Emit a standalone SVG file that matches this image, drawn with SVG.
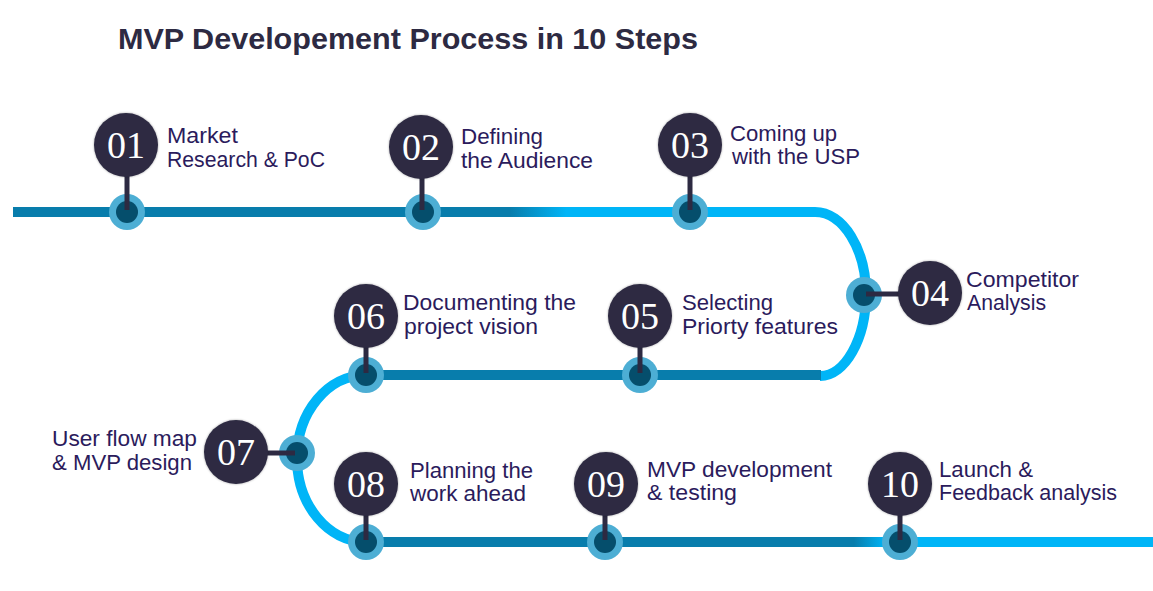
<svg xmlns="http://www.w3.org/2000/svg" width="1153" height="591" viewBox="0 0 1153 591">
<defs>
<linearGradient id="gTop" gradientUnits="userSpaceOnUse" x1="13" y1="0" x2="815" y2="0">
<stop offset="0.62" stop-color="#087DAC"/>
<stop offset="0.69" stop-color="#00B5F7"/>
</linearGradient>
<linearGradient id="gBot" gradientUnits="userSpaceOnUse" x1="366" y1="0" x2="1153" y2="0">
<stop offset="0.62" stop-color="#087DAC"/>
<stop offset="0.66" stop-color="#00B5F7"/>
</linearGradient>
<filter id="soft" x="-20%" y="-20%" width="140%" height="140%">
<feDropShadow dx="0" dy="0" stdDeviation="1.2" flood-color="#000" flood-opacity="0.35"/>
</filter>
</defs>
<style>
.track{fill:none;stroke-width:10}
.dark{stroke:#087DAC}
.light{stroke:#00B5F7}
.big{fill:#2D2A42;filter:url(#soft)}
.num{font-family:"Liberation Serif",serif;font-size:38px;fill:#FFFFFF;text-anchor:middle}
.stem{stroke:#2D2A42;stroke-width:5}
.mo{fill:#4DAED4}
.mi{fill:#054E6C}
.lbl{font-family:"Liberation Sans",Arial,sans-serif;font-size:21.5px;fill:#2B1B5C}
.title{font-family:"Liberation Sans",Arial,sans-serif;font-size:30px;font-weight:bold;fill:#2D2A42}
</style>
<rect width="1153" height="591" fill="#FFFFFF"/>
<text class="title" x="118" y="49" textLength="580" lengthAdjust="spacingAndGlyphs">MVP Developement Process in 10 Steps</text>

<g id="connectors">
<path class="track" d="M13 212 H815" stroke="url(#gTop)"/>
<path class="track light" d="M815 212 C843 212 866 249 866 294 C866 339 845 376 820 376"/>
<path class="track dark" d="M821 375 H366"/>
<path class="track light" d="M366 375 C328 375 297 412 297 458 C297 505 328 542 366 542"/>
<path class="track" d="M366 542 H1153" stroke="url(#gBot)"/>
</g>

<g id="step-01">
<circle class="mo" cx="127" cy="212" r="18"/><circle class="mi" cx="127" cy="212" r="11"/>
<line class="stem" x1="127" y1="170" x2="127" y2="210"/>
<circle class="big" cx="126" cy="145" r="32"/>
<text class="num" x="126" y="158">01</text>
<text class="lbl" x="167" y="143" textLength="71" lengthAdjust="spacingAndGlyphs">Market</text>
<text class="lbl" x="167" y="167" textLength="158" lengthAdjust="spacingAndGlyphs">Research &amp; PoC</text>
</g>

<g id="step-02">
<circle class="mo" cx="423" cy="212" r="18"/><circle class="mi" cx="423" cy="212" r="11"/>
<line class="stem" x1="422" y1="172" x2="422" y2="210"/>
<circle class="big" cx="421" cy="147" r="32"/>
<text class="num" x="421" y="160">02</text>
<text class="lbl" x="461" y="144" textLength="82" lengthAdjust="spacingAndGlyphs">Defining</text>
<text class="lbl" x="461" y="168" textLength="132" lengthAdjust="spacingAndGlyphs">the Audience</text>
</g>

<g id="step-03">
<circle class="mo" cx="690" cy="212" r="18"/><circle class="mi" cx="690" cy="212" r="11"/>
<line class="stem" x1="690" y1="170" x2="690" y2="210"/>
<circle class="big" cx="690" cy="145" r="32"/>
<text class="num" x="690" y="158">03</text>
<text class="lbl" x="730" y="141" textLength="107" lengthAdjust="spacingAndGlyphs">Coming up</text>
<text class="lbl" x="732" y="164" textLength="128" lengthAdjust="spacingAndGlyphs">with the USP</text>
</g>

<g id="step-04">
<circle class="mo" cx="864" cy="295" r="18"/><circle class="mi" cx="864" cy="295" r="11"/>
<line class="stem" x1="866" y1="294" x2="905" y2="294"/>
<circle class="big" cx="930" cy="293" r="32"/>
<text class="num" x="930" y="306">04</text>
<text class="lbl" x="966" y="287" textLength="113" lengthAdjust="spacingAndGlyphs">Competitor</text>
<text class="lbl" x="967" y="310" textLength="79" lengthAdjust="spacingAndGlyphs">Analysis</text>
</g>

<g id="step-05">
<circle class="mo" cx="640" cy="375" r="18"/><circle class="mi" cx="640" cy="375" r="11"/>
<line class="stem" x1="640" y1="340" x2="640" y2="373"/>
<circle class="big" cx="640" cy="316" r="32"/>
<text class="num" x="640" y="329">05</text>
<text class="lbl" x="682" y="310" textLength="91" lengthAdjust="spacingAndGlyphs">Selecting</text>
<text class="lbl" x="682" y="334" textLength="156" lengthAdjust="spacingAndGlyphs">Priorty features</text>
</g>

<g id="step-06">
<circle class="mo" cx="366" cy="375" r="18"/><circle class="mi" cx="366" cy="375" r="11"/>
<line class="stem" x1="366" y1="340" x2="366" y2="373"/>
<circle class="big" cx="366" cy="316" r="32"/>
<text class="num" x="366" y="329">06</text>
<text class="lbl" x="403" y="310" textLength="173" lengthAdjust="spacingAndGlyphs">Documenting the</text>
<text class="lbl" x="404" y="334" textLength="134" lengthAdjust="spacingAndGlyphs">project vision</text>
</g>

<g id="step-07">
<circle class="mo" cx="297" cy="453" r="18"/><circle class="mi" cx="297" cy="453" r="11"/>
<line class="stem" x1="260" y1="453" x2="295" y2="453"/>
<circle class="big" cx="236" cy="452" r="32"/>
<text class="num" x="236" y="465">07</text>
<text class="lbl" x="52" y="446" textLength="145" lengthAdjust="spacingAndGlyphs">User flow map</text>
<text class="lbl" x="52" y="470" textLength="140" lengthAdjust="spacingAndGlyphs">&amp; MVP design</text>
</g>

<g id="step-08">
<circle class="mo" cx="366" cy="542" r="18"/><circle class="mi" cx="366" cy="542" r="11"/>
<line class="stem" x1="366" y1="505" x2="366" y2="540"/>
<circle class="big" cx="366" cy="484" r="32"/>
<text class="num" x="366" y="497">08</text>
<text class="lbl" x="410" y="478" textLength="123" lengthAdjust="spacingAndGlyphs">Planning the</text>
<text class="lbl" x="410" y="501" textLength="116" lengthAdjust="spacingAndGlyphs">work ahead</text>
</g>

<g id="step-09">
<circle class="mo" cx="605" cy="542" r="18"/><circle class="mi" cx="605" cy="542" r="11"/>
<line class="stem" x1="605" y1="505" x2="605" y2="540"/>
<circle class="big" cx="606" cy="484" r="32"/>
<text class="num" x="606" y="497">09</text>
<text class="lbl" x="647" y="477" textLength="185" lengthAdjust="spacingAndGlyphs">MVP development</text>
<text class="lbl" x="647" y="500" textLength="90" lengthAdjust="spacingAndGlyphs">&amp; testing</text>
</g>

<g id="step-10">
<circle class="mo" cx="900" cy="542" r="18"/><circle class="mi" cx="900" cy="542" r="11"/>
<line class="stem" x1="900" y1="505" x2="900" y2="540"/>
<circle class="big" cx="900" cy="484" r="32"/>
<text class="num" x="900" y="497">10</text>
<text class="lbl" x="939" y="477" textLength="94" lengthAdjust="spacingAndGlyphs">Launch &amp;</text>
<text class="lbl" x="939" y="500" textLength="178" lengthAdjust="spacingAndGlyphs">Feedback analysis</text>
</g>
</svg>
